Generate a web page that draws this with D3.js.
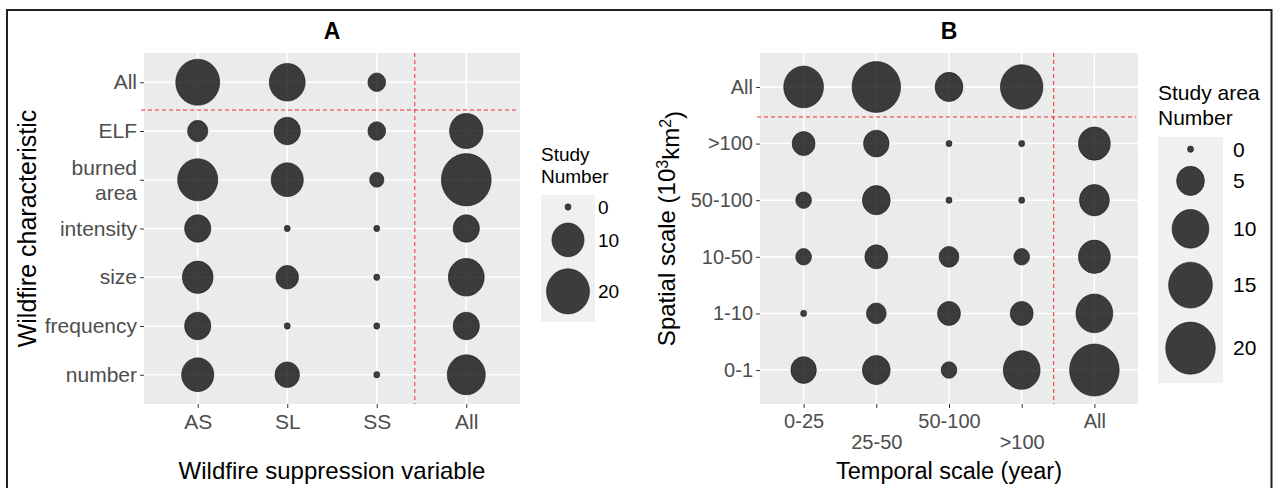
<!DOCTYPE html>
<html><head><meta charset="utf-8">
<script src="https://cdn.jsdelivr.net/npm/d3@7"></script>
<style>
body{margin:0;background:#fff}
svg{display:block}
text{font-family:"Liberation Sans",Arial,sans-serif}
</style>
</head><body>
<svg id="chart" width="1273" height="488"></svg>
<script>
// ---------- Panel A data ----------
const aCategories = ["AS", "SL", "SS", "All"];
const aRows = ["All", "ELF", "burned area", "intensity", "size", "frequency", "number"];
const aValuesAS  = [21, 3, 17, 6, 9, 6, 10];
const aValuesSL  = [13, 6, 10, 0, 4, 0, 5];
const aValuesSS  = [2, 2, 1, 0, 0, 0, 0];
const aValuesAll = [null, 11, 28, 6, 13, 6, 15];
const aLegendBreaks = [0, 10, 20];

// ---------- Panel B data ----------
const bCategories = ["0-25", "25-50", "50-100", ">100", "All"];
const bRows = ["All", ">100", "50-100", "10-50", "1-10", "0-1"];
const bValues0to25   = [12, 3, 1, 1, 0, 4];
const bValues25to50  = [19, 4, 5, 3, 2, 5];
const bValues50to100 = [5, 0, 0, 2, 3, 1];
const bValuesOver100 = [14, 0, 0, 1, 3, 10];
const bValuesAll     = [null, 7, 6, 7, 10, 20];
const bLegendBreaks = [0, 5, 10, 15, 20];

const svg = d3.select("#chart");
const ASPECT = 1.05; // vertical stretch of the markers in the original
const FONT = '"Liberation Sans",Arial,sans-serif';

// outer frame
svg.append("rect").attr("x", 7).attr("y", 10).attr("width", 1264.5).attr("height", 500)
  .attr("fill", "none").attr("stroke", "#222").attr("stroke-width", 2);

function buildCells(cols, rows, colValues) {
  const cells = [];
  cols.forEach((c, ci) => rows.forEach((r, ri) => {
    const v = colValues[ci][ri];
    if (v !== null && v !== undefined) cells.push({col: c, row: r, value: v});
  }));
  return cells;
}

function drawPanel(cfg) {
  const g = svg.append("g");
  const x = d3.scalePoint().domain(cfg.cols).range([cfg.x0, cfg.x1]).padding(0.6);
  const y = d3.scalePoint().domain(cfg.rows).range([cfg.y0, cfg.y1]).padding(0.6);
  const r = d3.scaleSqrt().domain([0, 20]).range([3, cfg.r20]);

  g.append("rect").attr("x", cfg.x0).attr("y", cfg.y0)
    .attr("width", cfg.x1 - cfg.x0).attr("height", cfg.y1 - cfg.y0).attr("fill", "#EBEBEB");

  g.selectAll(".gx").data(cfg.cols).join("line")
    .attr("x1", d => x(d)).attr("x2", d => x(d)).attr("y1", cfg.y0).attr("y2", cfg.y1)
    .attr("stroke", "#fff").attr("stroke-width", 1.5);
  g.selectAll(".gy").data(cfg.rows).join("line")
    .attr("y1", d => y(d)).attr("y2", d => y(d)).attr("x1", cfg.x0).attr("x2", cfg.x1)
    .attr("stroke", "#fff").attr("stroke-width", 1.5);

  // divider lines
  const vx = x(cfg.cols[cfg.cols.length - 2]) + x.step() * cfg.vOffset;
  const hy = y(cfg.rows[0]) + y.step() * cfg.hOffset;
  g.append("line").attr("x1", vx).attr("x2", vx).attr("y1", cfg.y0).attr("y2", cfg.y1)
    .attr("stroke", "#F02A2A").attr("stroke-width", 1).attr("stroke-dasharray", "4,3");
  g.append("line").attr("x1", cfg.x0 - 3).attr("x2", cfg.x1 - 2).attr("y1", hy).attr("y2", hy)
    .attr("stroke", "#F02A2A").attr("stroke-width", 1).attr("stroke-dasharray", "4,3");

  g.selectAll(".pt").data(cfg.cells).join("ellipse")
    .attr("cx", d => x(d.col)).attr("cy", d => y(d.row))
    .attr("rx", d => r(d.value)).attr("ry", d => r(d.value) * ASPECT)
    .attr("fill", "#000").attr("fill-opacity", 0.75)
    .attr("stroke", "#1a1a1a").attr("stroke-width", 0.6);

  // axes
  const xa = g.append("g").attr("transform", `translate(0,${cfg.y1})`)
    .call(d3.axisBottom(x).tickSize(4).tickPadding(6));
  const ya = g.append("g").attr("transform", `translate(${cfg.x0},0)`)
    .call(d3.axisLeft(y).tickSize(4).tickPadding(3));
  [xa, ya].forEach(a => {
    a.select(".domain").remove();
    a.selectAll(".tick line").attr("stroke", "#333").attr("stroke-width", 1);
    a.selectAll(".tick text").attr("fill", "#4D4D4D").style("font-size", cfg.tickFont + "px")
      .style("font-family", FONT);
  });
  if (cfg.stagger) {
    xa.selectAll(".tick text").attr("dy", (d, i) => (i % 2 === 1 && i !== cfg.cols.length - 1) ? "1.75em" : "0.71em");
  }
  ya.selectAll(".tick text").each(function(d) {
    const parts = d.split(" ");
    if (d === "burned area") {
      const t = d3.select(this).text(null).attr("dy", null);
      t.append("tspan").attr("x", -7).attr("dy", "-0.27em").text(parts[0]);
      t.append("tspan").attr("x", -7).attr("dy", "1.2em").text(parts[1]);
    }
  });

  // titles
  const cx = (cfg.x0 + cfg.x1) / 2, cy = (cfg.y0 + cfg.y1) / 2;
  svg.append("text").attr("x", cx).attr("y", 39).attr("text-anchor", "middle")
    .style("font-size", "23px").style("font-weight", "bold").attr("fill", "#000").text(cfg.title);
  svg.append("text").attr("x", cx).attr("y", 479).attr("text-anchor", "middle")
    .style("font-size", cfg.xTitleFont + "px").attr("fill", "#000").text(cfg.xTitle);
  const yt = svg.append("text").attr("transform", `translate(${cfg.yTitleX},${cy}) rotate(-90)`)
    .attr("text-anchor", "middle").style("font-size", cfg.yTitleFont + "px").attr("fill", "#000");
  cfg.yTitle(yt);

  // legend
  const L = cfg.legend;
  L.titleLines.forEach((t, i) => svg.append("text").attr("x", L.x).attr("y", L.titleY + i * L.titleLH)
    .style("font-size", L.font + "px").attr("fill", "#000").text(t));
  const heights = L.breaks.map(b => Math.max(20, 2 * r(b) * ASPECT + L.pad));
  const total = d3.sum(heights);
  svg.append("rect").attr("x", L.x).attr("y", L.top).attr("width", L.boxW).attr("height", total + 4)
    .attr("fill", "#F0F0F0");
  let acc = L.top + 2;
  L.breaks.forEach((b, i) => {
    const c = acc + heights[i] / 2;
    acc += heights[i];
    svg.append("ellipse").attr("cx", L.x + L.boxW / 2).attr("cy", c)
      .attr("rx", r(b)).attr("ry", r(b) * ASPECT)
      .attr("fill", "#000").attr("fill-opacity", 0.75).attr("stroke", "#1a1a1a").attr("stroke-width", 0.6);
    svg.append("text").attr("x", L.labelX).attr("y", c).attr("dy", "0.35em")
      .style("font-size", L.font + "px").attr("fill", "#000").text(b);
  });
}

drawPanel({
  cols: aCategories, rows: aRows,
  cells: buildCells(aCategories, aRows, [aValuesAS, aValuesSL, aValuesSS, aValuesAll]),
  x0: 144, x1: 520, y0: 53, y1: 404, r20: 21.5,
  vOffset: 0.425, hOffset: 0.57, tickFont: 21,
  title: "A", xTitle: "Wildfire suppression variable", xTitleFont: 24,
  yTitleX: 36, yTitleFont: 25,
  yTitle: t => t.text("Wildfire characteristic"),
  legend: {x: 541, titleY: 161, titleLH: 22, titleLines: ["Study", "Number"], font: 19,
           top: 195, boxW: 54, pad: 12, labelX: 598, breaks: aLegendBreaks}
});

drawPanel({
  cols: bCategories, rows: bRows,
  cells: buildCells(bCategories, bRows, [bValues0to25, bValues25to50, bValues50to100, bValuesOver100, bValuesAll]),
  x0: 760, x1: 1138, y0: 53, y1: 404, r20: 24.8,
  vOffset: 0.44, hOffset: 0.53, tickFont: 20, stagger: true,
  title: "B", xTitle: "Temporal scale (year)", xTitleFont: 23.5,
  yTitleX: 675, yTitleFont: 24,
  yTitle: t => {
    t.append("tspan").text("Spatial scale (10");
    t.append("tspan").attr("dy", "-0.45em").style("font-size", "16px").text("3");
    t.append("tspan").attr("dy", "0.45em").text("km");
    t.append("tspan").attr("dy", "-0.45em").style("font-size", "16px").text("2");
    t.append("tspan").attr("dy", "0.45em").text(")");
  },
  legend: {x: 1158, titleY: 100, titleLH: 25, titleLines: ["Study area", "Number"], font: 21,
           top: 137, boxW: 65, pad: 14, labelX: 1233, breaks: bLegendBreaks}
});
</script>
</body></html>
